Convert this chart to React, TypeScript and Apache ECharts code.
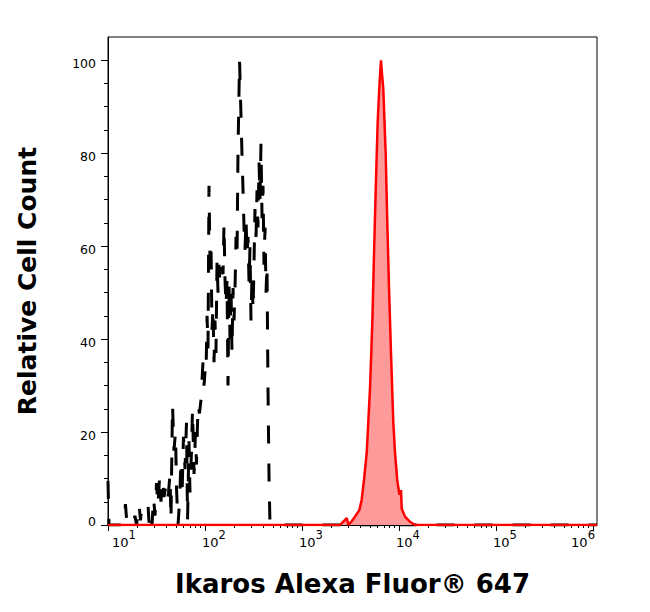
import React, { useEffect, useRef } from "react";
import * as echarts from "echarts";

// x values are log10(fluorescence intensity) in decades; y is relative cell count (%)
const xMajorDecades = [1, 2, 3, 4, 5, 6];
const xMinorFactors = [2, 3, 4, 5, 6, 7, 8, 9];
const xMin = 1;
const xMax = 6.041;
const yTickValues = [0, 20, 40, 60, 80, 100];
const yMinorTickValues = [5, 10, 15, 25, 30, 35, 45, 50, 55, 65, 70, 75, 85, 90, 95];

// Isotype control (black dashed histogram)
const isotypeX = [
  1.0, 1.01, 1.103, 1.165, 1.18, 1.196, 1.258, 1.278, 1.294, 1.32,
  1.335, 1.351, 1.412, 1.423, 1.438, 1.454, 1.469, 1.485, 1.5, 1.515,
  1.531, 1.546, 1.562, 1.577, 1.593, 1.608, 1.624, 1.639, 1.649, 1.665,
  1.68, 1.696, 1.706, 1.722, 1.737, 1.753, 1.763, 1.778, 1.794, 1.809,
  1.82, 1.835, 1.845, 1.861, 1.871, 1.887, 1.902, 1.912, 1.928, 1.943,
  1.959, 1.969, 1.979, 1.99, 2.0, 2.01, 2.021, 2.031, 2.041, 2.052,
  2.062, 2.072, 2.082, 2.093, 2.103, 2.113, 2.124, 2.134, 2.144, 2.155,
  2.165, 2.175, 2.186, 2.196, 2.206, 2.216, 2.227, 2.237, 2.247, 2.258,
  2.268, 2.278, 2.289, 2.299, 2.309, 2.32, 2.33, 2.34, 2.356, 2.371,
  2.381, 2.392, 2.402, 2.412, 2.423, 2.433, 2.443, 2.454, 2.464, 2.474,
  2.485, 2.495, 2.505, 2.515, 2.526, 2.536, 2.546, 2.557, 2.567, 2.577,
  2.588, 2.598, 2.608, 2.619, 2.629, 2.639, 2.649, 2.66, 2.67,
  3.0, 4.0, 5.0, 6.041,
];
const isotypeY = [
  9.5, 0, 0, 0, 4.5, 0, 0, 2, 0, 4.5,
  1, 4.8, 4.5, 0.5, 3, 0, 6, 2, 9, 4,
  10, 5, 10, 6, 8, 5, 7, 11, 1, 26,
  16, 20, 8, 0, 5, 14, 6, 19, 12, 22,
  1, 18, 7, 16, 25, 11, 20, 13, 26, 24,
  27, 31, 35, 30, 33, 32, 45, 38, 73, 56,
  60, 42, 47, 35, 44, 37, 57, 50, 56, 52,
  55.5, 54.5, 54, 65, 53, 47, 52.5, 30, 52, 40,
  51.5, 37, 51, 44, 50.5, 62, 58, 80, 100, 88,
  80, 72, 64, 59, 66, 58, 62, 52, 60, 44,
  54, 46, 56, 68, 62, 72, 64, 78, 70, 82,
  66, 73, 56, 64, 50, 56, 30, 10, 0,
  0, 0, 0, 0,
];

// Ikaros Alexa Fluor 647 (red filled histogram)
const ikarosX = [
  1.0, 3.392, 3.461, 3.479, 3.512, 3.546, 3.591, 3.615, 3.639, 3.667,
  3.684, 3.701, 3.725, 3.742, 3.76, 3.78, 3.799, 3.814, 3.825, 3.838,
  3.863, 3.879, 3.897, 3.918, 3.941, 3.959, 3.982, 3.993, 4.005, 4.021,
  4.028, 4.062, 4.113, 4.165, 6.041,
];
const ikarosY = [
  0, 0, 1.5, 0, 0.8, 1.8, 3.2, 5.4, 9.7, 15.5,
  22.4, 29.4, 43.7, 58, 72.4, 86.7, 95, 100, 97, 93.9,
  79.6, 65.2, 51, 36.6, 22.2, 15.5, 9.7, 8, 6.5, 7.5,
  3.5, 1.8, 0.7, 0, 0,
];

const xTitle = "Ikaros Alexa Fluor® 647";
const yTitle = "Relative Cell Count";

const tickFont = '"DejaVu Sans", Verdana, sans-serif';
const titleFont = '"DejaVu Sans", Verdana, sans-serif';

export default function App() {
  const ref = useRef<HTMLDivElement>(null);

  useEffect(() => {
    if (!ref.current) return;
    const chart = echarts.init(ref.current, null, { renderer: "svg" });

    const isotype = isotypeX.map((x, i) => [x, isotypeY[i]]);
    const ikaros = ikarosX.map((x, i) => [x, ikarosY[i]]);
    const xMinorTicks: number[] = [];
    xMajorDecades.slice(0, -1).forEach((d) =>
      xMinorFactors.forEach((k) => xMinorTicks.push(d + Math.log10(k)))
    );

    const baseTok = { fontFamily: tickFont, fontSize: 13, color: "#000", lineHeight: 16 };
    const supTok = { fontFamily: tickFont, fontSize: 11.5, color: "#000", lineHeight: 16 };

    chart.setOption({
      animation: false,
      backgroundColor: "#ffffff",
      grid: {
        left: 108,
        top: 37,
        right: 53,
        bottom: 87,
        show: true,
        borderColor: "#000",
        borderWidth: 1,
        backgroundColor: "transparent",
        containLabel: false,
        outerBoundsMode: "none",
      },
      xAxis: [
        {
          type: "value",
          min: xMin,
          max: xMax,
          position: "bottom",
          axisLine: { show: true, onZero: false, lineStyle: { color: "#000", width: 1 } },
          axisTick: { show: true, customValues: xMajorDecades, length: 6, lineStyle: { color: "#000" } },
          splitLine: { show: false },
          axisLabel: {
            customValues: xMajorDecades,
            margin: 9,
            formatter: (v: number) => {
              const n = Math.round(v);
              if (n === 1) return `{b1|10}{s|${n}}`;
              if (n === 6) return `{b0|10}{s6|${n}}`;
              return `{b|10}{s|${n}}`;
            },
            rich: {
              b: { ...baseTok, padding: [0, 0, 0, 18] },
              b1: { ...baseTok, padding: [0, 0, 0, 32] },
              b0: { ...baseTok },
              s: { ...supTok, padding: [0, 0, 14, 0] },
              s6: { ...supTok, padding: [0, 20, 14, 0] },
            },
          },
          name: xTitle,
          nameLocation: "middle",
          nameGap: 46,
          nameTextStyle: { fontFamily: titleFont, fontWeight: "bold", fontSize: 26, color: "#000" },
        },
        {
          type: "value",
          min: xMin,
          max: xMax,
          position: "bottom",
          axisLine: { show: false },
          axisTick: { show: true, customValues: xMinorTicks, length: 3, lineStyle: { color: "#000" } },
          axisLabel: { show: false },
          splitLine: { show: false },
        },
      ],
      yAxis: [
        {
          type: "value",
          min: 0,
          max: 105,
          position: "left",
          axisLine: { show: true, onZero: false, lineStyle: { color: "#000", width: 1 } },
          axisTick: { show: true, customValues: yTickValues, length: 7, lineStyle: { color: "#000" } },
          splitLine: { show: false },
          axisLabel: {
            customValues: yTickValues,
            margin: 12,
            formatter: (v: number) => (v === 0 ? `{z|${v}}` : `{n|${v}}`),
            rich: {
              n: { fontFamily: tickFont, fontSize: 12.5, color: "#000", padding: [6, 0, 0, 0] },
              z: { fontFamily: tickFont, fontSize: 12.5, color: "#000", padding: [0, 0, 8, 0] },
            },
          },
          name: yTitle,
          nameLocation: "middle",
          nameRotate: 90,
          nameGap: 68,
          nameTextStyle: { fontFamily: titleFont, fontWeight: "bold", fontSize: 25, color: "#000" },
        },
        {
          type: "value",
          min: 0,
          max: 105,
          position: "left",
          axisLine: { show: false },
          axisTick: { show: true, customValues: yMinorTickValues, length: 4, lineStyle: { color: "#000" } },
          axisLabel: { show: false },
          splitLine: { show: false },
        },
      ],
      series: [
        {
          name: "Isotype control",
          type: "line",
          xAxisIndex: 0,
          yAxisIndex: 0,
          data: isotype,
          symbol: "none",
          showSymbol: false,
          lineStyle: { color: "#000", width: 3, type: [18, 20] },
          z: 2,
        },
        {
          name: "Ikaros",
          type: "line",
          xAxisIndex: 0,
          yAxisIndex: 0,
          data: ikaros,
          symbol: "none",
          showSymbol: false,
          lineStyle: { color: "#ff0000", width: 2.5 },
          areaStyle: { color: "#ff9a9a", opacity: 1 },
          z: 3,
        },
      ],
    });

    return () => chart.dispose();
  }, []);

  return (
    <div
      ref={ref}
      style={{ position: "absolute", left: 0, top: 0, width: 650, height: 612 }}
    />
  );
}
